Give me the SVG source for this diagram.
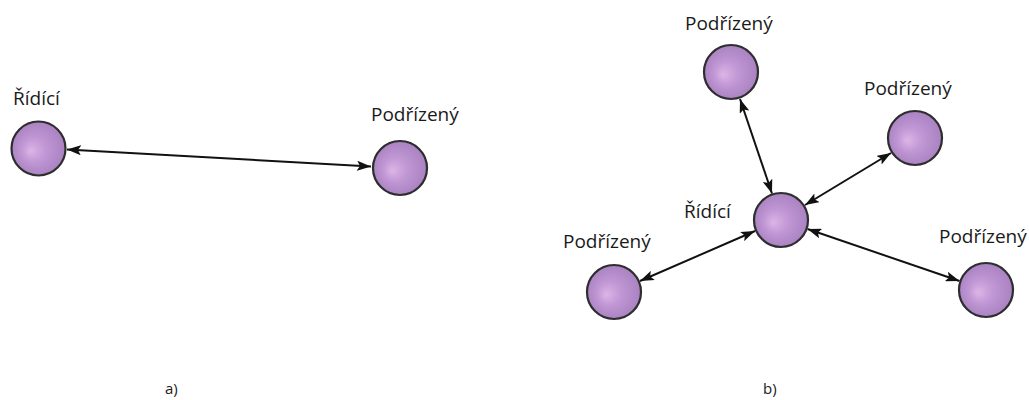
<svg xmlns="http://www.w3.org/2000/svg" width="1029" height="400" viewBox="0 0 1029 400">
<style>
.node circle{fill:url(#g);stroke:#2e2e2e;stroke-width:2.2}
.lbl{font-family:"Open Sans","Noto Sans",sans-serif;font-size:19px;fill:#1a1a1a}
.cap{font-family:"Open Sans","Noto Sans",sans-serif;font-size:15px;fill:#1a1a1a}
.edge{stroke:#111;stroke-width:2;fill:none;marker-start:url(#ah);marker-end:url(#ah)}
</style>
<defs>
<radialGradient id="g" cx="0.5" cy="0.5" r="0.55" fx="0.35" fy="0.55">
<stop offset="0" stop-color="#dcb6e6"/>
<stop offset="0.4" stop-color="#c197d5"/>
<stop offset="1" stop-color="#a67fbe"/>
</radialGradient>
<marker id="ah" markerUnits="userSpaceOnUse" markerWidth="14" markerHeight="10" viewBox="0 0 14 10" refX="14" refY="5" orient="auto-start-reverse">
<path d="M0,0 L14,5 L0,10 L3,5 Z" fill="#111"/>
</marker>
</defs>
<rect width="1029" height="400" fill="#fff"/>
<g id="connectors">
<line class="edge" x1="67" y1="149.5" x2="371" y2="166.5"/>
<line class="edge" x1="772" y1="193.5" x2="740" y2="99"/>
<line class="edge" x1="805" y1="205" x2="891" y2="153"/>
<line class="edge" x1="755" y1="231" x2="640" y2="281"/>
<line class="edge" x1="807.5" y1="229" x2="959.5" y2="281"/>
</g>
<g id="a-ridici" class="node"><circle cx="38.5" cy="148.5" r="27"/><text class="lbl" x="13" y="105">Řídící</text></g>
<g id="a-podrizeny" class="node"><circle cx="400" cy="168" r="27"/><text class="lbl" x="371" y="121">Podřízený</text></g>
<g id="b-ridici" class="node"><circle cx="781" cy="220" r="27"/><text class="lbl" x="684" y="218">Řídící</text></g>
<g id="b-top" class="node"><circle cx="731" cy="72" r="27"/><text class="lbl" x="685" y="30">Podřízený</text></g>
<g id="b-upright" class="node"><circle cx="915" cy="138" r="27"/><text class="lbl" x="864" y="95">Podřízený</text></g>
<g id="b-lowleft" class="node"><circle cx="614" cy="292" r="27"/><text class="lbl" x="563" y="248">Podřízený</text></g>
<g id="b-lowright" class="node"><circle cx="986" cy="290" r="27"/><text class="lbl" x="939" y="243">Podřízený</text></g>
<text class="cap" x="165" y="394">a)</text>
<text class="cap" x="763" y="394">b)</text>
</svg>
